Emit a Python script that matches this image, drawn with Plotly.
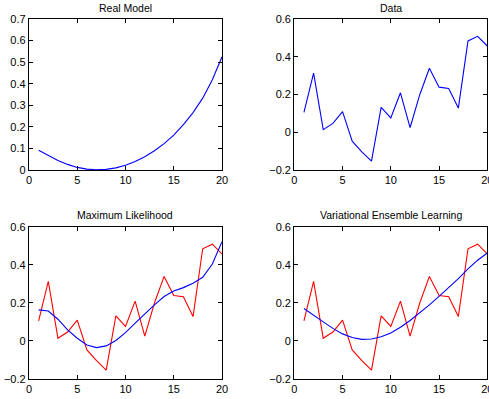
import plotly.graph_objects as go

x_vals = list(range(1, 21))

real_model = [0.092, 0.066, 0.044, 0.026, 0.012, 0.004, 0.001, 0.003, 0.010, 0.022,
              0.039, 0.061, 0.089, 0.122, 0.162, 0.210, 0.266, 0.333, 0.418, 0.525]

data_obs = [0.105, 0.313, 0.014, 0.047, 0.109, -0.047, -0.104, -0.153, 0.132, 0.076,
            0.209, 0.025, 0.199, 0.339, 0.239, 0.232, 0.128, 0.484, 0.508, 0.457]

ml_fit = [0.163, 0.157, 0.114, 0.058, 0.014, -0.021, -0.035, -0.026, 0.002, 0.044,
          0.093, 0.142, 0.189, 0.233, 0.262, 0.280, 0.303, 0.334, 0.404, 0.521]

vel_fit = [0.170, 0.137, 0.100, 0.066, 0.037, 0.018, 0.008, 0.010, 0.022, 0.042,
           0.072, 0.107, 0.146, 0.189, 0.234, 0.279, 0.327, 0.378, 0.424, 0.462]

titles = ["Real Model", "Data", "Maximum Likelihood", "Variational Ensemble Learning"]

x_ticks = [0, 5, 10, 15, 20]
y_ticks_top_left = [0, 0.1, 0.2, 0.3, 0.4, 0.5, 0.6, 0.7]
y_ticks_other = [-0.2, 0, 0.2, 0.4, 0.6]

W, H = 489, 399
BLUE = "#0000ff"
RED = "#ff0000"
FONT = "Liberation Sans, Arial, Helvetica, sans-serif"

xdom_l = [29 / W, 222 / W]
xdom_r = [294.3 / W, 487.3 / W]
ydom_t = [1 - 170 / H, 1 - 19 / H]
ydom_b = [1 - 379 / H, 1 - 226.7 / H]

def fmt(v):
    if abs(v) < 1e-9:
        return "0"
    s = ("%.1f" % v)
    return s.replace("-", "\u2212")

fig = go.Figure()

line_w = 1.1
fig.add_trace(go.Scatter(x=x_vals, y=real_model, mode="lines", line=dict(color=BLUE, width=line_w),
                         xaxis="x", yaxis="y"))
fig.add_trace(go.Scatter(x=x_vals, y=data_obs, mode="lines", line=dict(color=BLUE, width=line_w),
                         xaxis="x2", yaxis="y2"))
fig.add_trace(go.Scatter(x=x_vals, y=data_obs, mode="lines", line=dict(color=RED, width=line_w),
                         xaxis="x3", yaxis="y3"))
fig.add_trace(go.Scatter(x=x_vals, y=ml_fit, mode="lines", line=dict(color=BLUE, width=line_w),
                         xaxis="x3", yaxis="y3"))
fig.add_trace(go.Scatter(x=x_vals, y=data_obs, mode="lines", line=dict(color=RED, width=line_w),
                         xaxis="x4", yaxis="y4"))
fig.add_trace(go.Scatter(x=x_vals, y=vel_fit, mode="lines", line=dict(color=BLUE, width=line_w),
                         xaxis="x4", yaxis="y4"))

def ax(domain, anchor, tickvals, rng, overflow="hide past div"):
    return dict(domain=domain, anchor=anchor, range=rng, tickmode="array",
                tickvals=tickvals, ticktext=[fmt(v) if isinstance(v, float) else str(v) for v in tickvals],
                ticks="inside", ticklen=4, tickwidth=1, tickcolor="black",
                showline=True, linecolor="black", linewidth=1.3, mirror="ticks",
                showgrid=False, zeroline=False, automargin=False,
                ticklabeloverflow=overflow,
                tickfont=dict(family=FONT, size=11, color="black"), fixedrange=True)

layout = dict(
    width=W, height=H, margin=dict(l=0, r=0, t=0, b=0, pad=0, autoexpand=False),
    paper_bgcolor="white", plot_bgcolor="white", showlegend=False,
    xaxis=ax(xdom_l, "y", x_ticks, [0, 20]),
    yaxis=ax(ydom_t, "x", y_ticks_top_left, [0, 0.7]),
    xaxis2=ax(xdom_r, "y2", x_ticks, [0, 20], "allow"),
    yaxis2=ax(ydom_t, "x2", y_ticks_other, [-0.2, 0.6]),
    xaxis3=ax(xdom_l, "y3", x_ticks, [0, 20]),
    yaxis3=ax(ydom_b, "x3", y_ticks_other, [-0.2, 0.6]),
    xaxis4=ax(xdom_r, "y4", x_ticks, [0, 20], "allow"),
    yaxis4=ax(ydom_b, "x4", y_ticks_other, [-0.2, 0.6]),
)
fig.update_layout(**layout)

title_pos = [((xdom_l[0] + xdom_l[1]) / 2, 1 - 8 / H),
             ((xdom_r[0] + xdom_r[1]) / 2, 1 - 8 / H),
             ((xdom_l[0] + xdom_l[1]) / 2, 1 - 215 / H),
             ((xdom_r[0] + xdom_r[1]) / 2, 1 - 215 / H)]
for t, (px, py) in zip(titles, title_pos):
    fig.add_annotation(text=t, x=px, y=py, xref="paper", yref="paper", showarrow=False,
                       xanchor="center", yanchor="middle",
                       font=dict(family=FONT, size=10.5, color="black"))

fig.write_html("out.html", config={"displayModeBar": False},
               post_script="document.body.style.margin='0';document.body.style.overflow='hidden';")
